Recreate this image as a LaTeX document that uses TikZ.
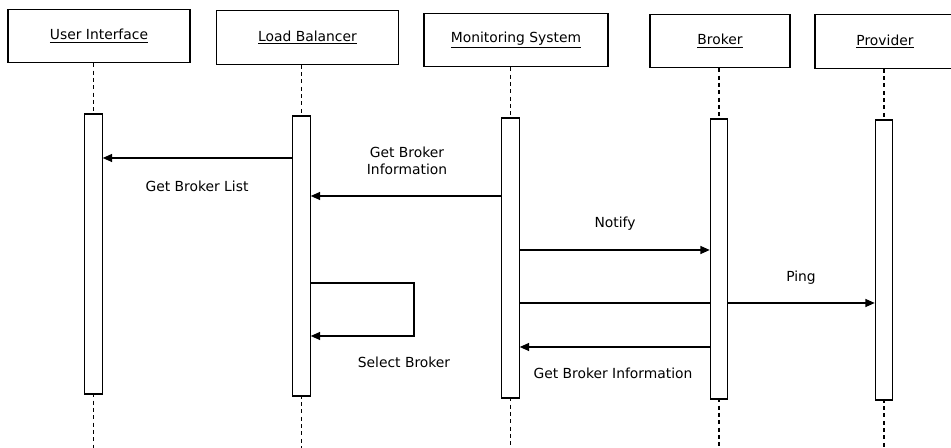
\documentclass[tikz,border=0pt]{standalone}
\usepackage{fontspec}
\setmainfont{DejaVu Sans}
\usetikzlibrary{arrows.meta}

\tikzset{
  actor/.style={draw,line width=0.9pt,inner sep=0pt,minimum height=40pt,font=\fontsize{10.4}{12.5}\selectfont},
  bar/.style={draw,fill=white,line width=0.9pt,inner sep=0pt,minimum width=13pt,minimum height=210pt},
  life/.style={dash pattern={on 3pt off 2.5pt},line width=0.9pt},
  msg/.style={line width=0.9pt,-{Triangle[length=7pt,width=6pt]}},
  lbl/.style={inner sep=0.75pt,align=center,font=\fontsize{10.4}{12.5}\selectfont}
}

\begin{document}
\begin{tikzpicture}[x=0.75pt,y=0.75pt,yscale=-1,xscale=1]
\useasboundingbox (0,0) rectangle (951,448);

% actors
\node[actor,minimum width=136.5pt] (ui) at (99,36) {\underline{User Interface}};
\node[actor,minimum width=137pt] (lb) at (307.5,37.5) {\underline{Load Balancer}};
\node[actor,minimum width=138pt] (ms) at (516,40) {\underline{Monitoring System}};
\node[actor,minimum width=105pt] (br) at (720,41) {\underline{Broker}};
\node[actor,minimum width=105pt] (pr) at (885,41.5) {\underline{Provider}};

% lifelines
\coordinate (uiend) at (93.5,448);
\coordinate (lbend) at (301.5,448);
\coordinate (msend) at (510.5,448);
\coordinate (brend) at (719,448);
\coordinate (prend) at (884,448);

\draw[life] (ui.south -| uiend) -- (uiend);
\draw[life] (lb.south -| lbend) -- (lbend);
\draw[life] (ms.south -| msend) -- (msend);
\draw[life] (br.south -| brend) -- (brend);
\draw[life] (pr.south -| prend) -- (prend);

% activation bars
\node[bar] (uibar) at (93.5,254) {};
\node[bar] (lbbar) at (301.5,256) {};
\node[bar] (msbar) at (510.5,258) {};
\node[bar] (brbar) at (719,259) {};
\node[bar] (prbar) at (884,260) {};

% messages
\draw[msg] (lbbar.west |- 0,158) -- (uibar.east |- 0,158);
\draw[msg] (msbar.west |- 0,196) -- (lbbar.east |- 0,196);
\draw[msg] (msbar.east |- 0,250) -- (brbar.west |- 0,250);
\draw[line width=0.9pt] (msbar.east |- 0,303) -- (brbar.west |- 0,303);
\draw[msg] (brbar.east |- 0,303) -- (prbar.west |- 0,303);
\draw[msg] (brbar.west |- 0,347) -- (msbar.east |- 0,347);
\coordinate (selftop) at (414,283);
\coordinate (selfbot) at (414,336);
\draw[msg] (lbbar.east |- selftop) -- (selftop) -- (selfbot) -- (lbbar.east |- selfbot);

% labels
\node[lbl] (l1) at (197,186) {Get Broker List};
\node[lbl] (l2) at (407,161) {Get Broker\\Information};
\node[lbl] (l3) at (404,362) {Select Broker};
\node[lbl] (l4) at (615,224) {Notify};
\node[lbl] (l5) at (801,278) {Ping};
\node[lbl] (l6) at (613,373) {Get Broker Information};

\end{tikzpicture}
\end{document}
